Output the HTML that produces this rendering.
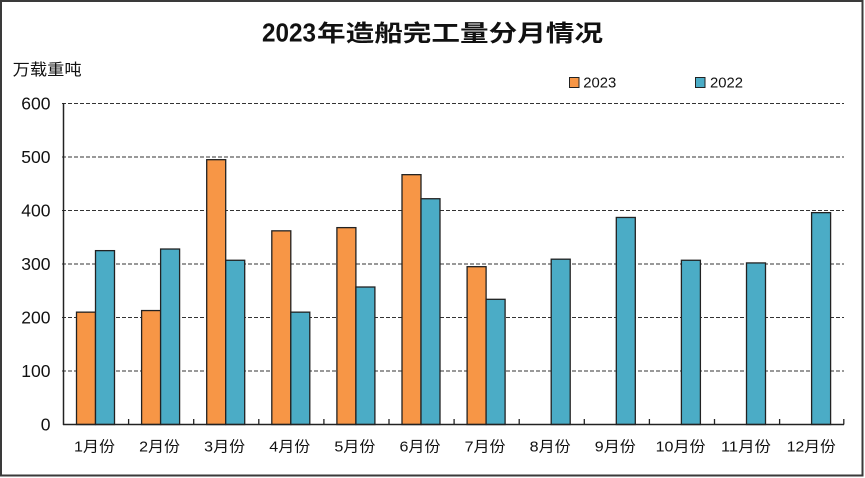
<!DOCTYPE html>
<html>
<head>
<meta charset="utf-8">
<style>
  html, body { margin: 0; padding: 0; background: #ffffff; }
  body { width: 865px; height: 478px; overflow: hidden; }
  svg { display: block; }
  text { font-family: "Liberation Sans", "Noto Sans CJK SC", sans-serif; fill: #111; }
</style>
</head>
<body>
<svg width="865" height="478" viewBox="0 0 865 478" xmlns="http://www.w3.org/2000/svg">
  <rect x="0" y="0" width="865" height="478" fill="#ffffff"/>
  <rect x="1" y="1" width="861.5" height="474.5" fill="none" stroke="#3a3a3a" stroke-width="2"/>

  <!-- Title -->
  <text x="262" y="41.5" font-size="25.5" font-weight="bold" textLength="54" lengthAdjust="spacingAndGlyphs">2023</text>
  <text x="317" y="41" font-size="23" font-weight="bold" textLength="286" lengthAdjust="spacingAndGlyphs">年造船完工量分月情况</text>

  <!-- Unit -->
  <text x="12.7" y="75" font-size="16" textLength="69" lengthAdjust="spacingAndGlyphs">万载重吨</text>

  <!-- Legend -->
  <rect x="569.5" y="77.5" width="9.5" height="10" fill="#F79646" stroke="#222" stroke-width="1"/>
  <text x="583.3" y="87.3" font-size="14.5" textLength="33" lengthAdjust="spacingAndGlyphs">2023</text>
  <rect x="695.5" y="77.5" width="9.5" height="10" fill="#4BACC6" stroke="#222" stroke-width="1"/>
  <text x="710" y="87.3" font-size="14.5" textLength="33" lengthAdjust="spacingAndGlyphs">2022</text>

  <!-- Gridlines -->
  <g stroke="#333" stroke-width="1" stroke-dasharray="4,2">
    <line x1="62" y1="103.5" x2="844" y2="103.5"/>
    <line x1="62" y1="157" x2="844" y2="157"/>
    <line x1="62" y1="210.5" x2="844" y2="210.5"/>
    <line x1="62" y1="264" x2="844" y2="264"/>
    <line x1="62" y1="317.5" x2="844" y2="317.5"/>
    <line x1="62" y1="371" x2="844" y2="371"/>
  </g>

  <!-- Y labels -->
  <g font-size="17.5" text-anchor="end">
    <text x="50.5" y="109.5">600</text>
    <text x="50.5" y="163">500</text>
    <text x="50.5" y="216.5">400</text>
    <text x="50.5" y="270">300</text>
    <text x="50.5" y="323.5">200</text>
    <text x="50.5" y="377">100</text>
    <text x="50.5" y="430.3">0</text>
  </g>

  <!-- Bars -->
  <g stroke="#222" stroke-width="1.3">
    <!-- 2023 orange: y = 424.5 - v*0.535 -->
    <rect x="76.5" y="312.15" width="19" height="112.35" fill="#F79646"/>
    <rect x="141.6" y="310.55" width="19" height="113.95" fill="#F79646"/>
    <rect x="206.7" y="159.68" width="19" height="264.82" fill="#F79646"/>
    <rect x="271.8" y="230.83" width="19" height="193.67" fill="#F79646"/>
    <rect x="336.9" y="227.62" width="19" height="196.88" fill="#F79646"/>
    <rect x="402.0" y="174.66" width="19" height="249.84" fill="#F79646"/>
    <rect x="467.1" y="266.68" width="19" height="157.82" fill="#F79646"/>
    <!-- 2022 blue -->
    <rect x="95.5" y="250.63" width="19" height="173.87" fill="#4BACC6"/>
    <rect x="160.6" y="249.02" width="19" height="175.48" fill="#4BACC6"/>
    <rect x="225.7" y="260.26" width="19" height="164.24" fill="#4BACC6"/>
    <rect x="290.8" y="312.15" width="19" height="112.35" fill="#4BACC6"/>
    <rect x="355.9" y="287.01" width="19" height="137.49" fill="#4BACC6"/>
    <rect x="421.0" y="198.73" width="19" height="225.77" fill="#4BACC6"/>
    <rect x="486.1" y="299.31" width="19" height="125.19" fill="#4BACC6"/>
    <rect x="551.2" y="259.19" width="19" height="165.31" fill="#4BACC6"/>
    <rect x="616.3" y="217.46" width="19" height="207.04" fill="#4BACC6"/>
    <rect x="681.4" y="260.26" width="19" height="164.24" fill="#4BACC6"/>
    <rect x="746.5" y="262.93" width="19" height="161.57" fill="#4BACC6"/>
    <rect x="811.6" y="212.64" width="19" height="211.86" fill="#4BACC6"/>
  </g>

  <!-- Axes -->
  <g stroke="#222" stroke-width="1.5" fill="none">
    <line x1="63.5" y1="103" x2="63.5" y2="425"/>
    <line x1="63" y1="424.5" x2="844" y2="424.5"/>
  </g>
  <!-- X ticks -->
  <g stroke="#222" stroke-width="1.3">
    <line x1="128.6" y1="419" x2="128.6" y2="424.5"/>
    <line x1="193.7" y1="419" x2="193.7" y2="424.5"/>
    <line x1="258.8" y1="419" x2="258.8" y2="424.5"/>
    <line x1="323.9" y1="419" x2="323.9" y2="424.5"/>
    <line x1="389.0" y1="419" x2="389.0" y2="424.5"/>
    <line x1="454.1" y1="419" x2="454.1" y2="424.5"/>
    <line x1="519.2" y1="419" x2="519.2" y2="424.5"/>
    <line x1="584.3" y1="419" x2="584.3" y2="424.5"/>
    <line x1="649.4" y1="419" x2="649.4" y2="424.5"/>
    <line x1="714.5" y1="419" x2="714.5" y2="424.5"/>
    <line x1="779.6" y1="419" x2="779.6" y2="424.5"/>
    <line x1="843.8" y1="419" x2="843.8" y2="424.5"/>
  </g>

  <!-- X labels -->
  <g font-size="15" text-anchor="middle">
    <text x="94.5" y="451.5" textLength="41" lengthAdjust="spacingAndGlyphs">1月份</text>
    <text x="159.6" y="451.5" textLength="41" lengthAdjust="spacingAndGlyphs">2月份</text>
    <text x="224.7" y="451.5" textLength="41" lengthAdjust="spacingAndGlyphs">3月份</text>
    <text x="289.8" y="451.5" textLength="41" lengthAdjust="spacingAndGlyphs">4月份</text>
    <text x="354.9" y="451.5" textLength="41" lengthAdjust="spacingAndGlyphs">5月份</text>
    <text x="420.0" y="451.5" textLength="41" lengthAdjust="spacingAndGlyphs">6月份</text>
    <text x="485.1" y="451.5" textLength="41" lengthAdjust="spacingAndGlyphs">7月份</text>
    <text x="550.2" y="451.5" textLength="41" lengthAdjust="spacingAndGlyphs">8月份</text>
    <text x="615.3" y="451.5" textLength="41" lengthAdjust="spacingAndGlyphs">9月份</text>
    <text x="680.6" y="451.5" textLength="50" lengthAdjust="spacingAndGlyphs">10月份</text>
    <text x="746.0" y="451.5" textLength="50" lengthAdjust="spacingAndGlyphs">11月份</text>
    <text x="811.3" y="451.5" textLength="49" lengthAdjust="spacingAndGlyphs">12月份</text>
  </g>
</svg>
</body>
</html>
